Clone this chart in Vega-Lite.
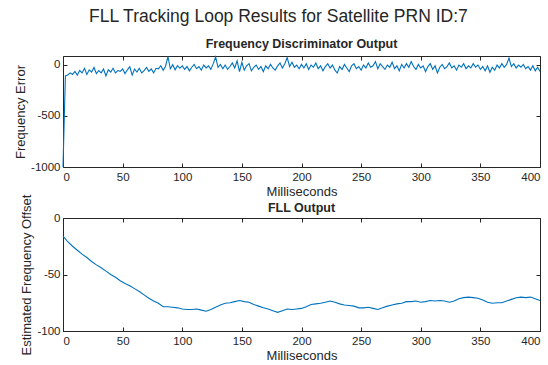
{
  "$schema": "https://vega.github.io/schema/vega-lite/v6.json",
  "padding": {"left": 14, "top": 7, "right": 2, "bottom": 0},
  "background": "white",
  "bounds": "flush",
  "spacing": 51,
  "title": {"text": "FLL Tracking Loop Results for Satellite PRN ID:7", "fontSize": 17.5, "fontWeight": "normal", "font": "Liberation Sans", "color": "#262626", "anchor": "middle", "offset": 12},
  "datasets": {
    "disc": [
      {"t":0,"v":-1000},{"t":2,"v":-110},{"t":4,"v":-100},{"t":6,"v":-80},{"t":8,"v":-95},{"t":10,"v":-65},{"t":12,"v":-102},{"t":14,"v":-57},{"t":16,"v":-80},{"t":18,"v":-35},
      {"t":20,"v":-95},{"t":22,"v":-50},{"t":24,"v":-72},{"t":26,"v":-27},{"t":28,"v":-87},{"t":30,"v":-57},{"t":32,"v":-80},{"t":34,"v":-42},{"t":36,"v":-110},{"t":38,"v":-50},
      {"t":40,"v":-72},{"t":42,"v":-35},{"t":44,"v":-80},{"t":46,"v":-57},{"t":48,"v":-65},{"t":50,"v":-42},{"t":52,"v":-87},{"t":54,"v":-50},{"t":56,"v":-20},{"t":58,"v":-102},
      {"t":60,"v":-42},{"t":62,"v":-72},{"t":64,"v":-35},{"t":66,"v":-80},{"t":68,"v":-57},{"t":70,"v":-27},{"t":72,"v":-65},{"t":74,"v":-42},{"t":76,"v":-80},{"t":78,"v":-35},
      {"t":80,"v":-40},{"t":82,"v":-10},{"t":84,"v":-55},{"t":86,"v":-15},{"t":88,"v":80},{"t":90,"v":-40},{"t":92,"v":0},{"t":94,"v":-50},{"t":96,"v":-10},{"t":98,"v":-35},
      {"t":100,"v":-11},{"t":102,"v":-46},{"t":104,"v":-18},{"t":106,"v":-60},{"t":108,"v":-25},{"t":110,"v":3},{"t":112,"v":-39},{"t":114,"v":-18},{"t":116,"v":-53},{"t":118,"v":-4},
      {"t":120,"v":-32},{"t":122,"v":-11},{"t":124,"v":-46},{"t":126,"v":10},{"t":128,"v":75},{"t":130,"v":-25},{"t":132,"v":3},{"t":134,"v":-39},{"t":136,"v":-4},{"t":138,"v":-46},
      {"t":140,"v":-18},{"t":142,"v":17},{"t":144,"v":-32},{"t":146,"v":38},{"t":148,"v":-67},{"t":150,"v":24},{"t":152,"v":-53},{"t":154,"v":-11},{"t":156,"v":10},{"t":158,"v":-60},
      {"t":160,"v":-25},{"t":162,"v":-4},{"t":164,"v":-46},{"t":166,"v":-18},{"t":168,"v":-67},{"t":170,"v":-11},{"t":172,"v":-39},{"t":174,"v":3},{"t":176,"v":-32},{"t":178,"v":-53},
      {"t":180,"v":-11},{"t":182,"v":17},{"t":184,"v":-32},{"t":186,"v":10},{"t":188,"v":70},{"t":190,"v":-18},{"t":192,"v":24},{"t":194,"v":-25},{"t":196,"v":-4},{"t":198,"v":-39},
      {"t":200,"v":3},{"t":202,"v":-32},{"t":204,"v":10},{"t":206,"v":-46},{"t":208,"v":-4},{"t":210,"v":-25},{"t":212,"v":17},{"t":214,"v":-39},{"t":216,"v":-11},{"t":218,"v":-60},
      {"t":220,"v":-18},{"t":222,"v":10},{"t":224,"v":-32},{"t":226,"v":-4},{"t":228,"v":-53},{"t":230,"v":-81},{"t":232,"v":-18},{"t":234,"v":-46},{"t":236,"v":3},{"t":238,"v":-32},
      {"t":240,"v":-67},{"t":242,"v":-11},{"t":244,"v":10},{"t":246,"v":-39},{"t":248,"v":-18},{"t":250,"v":-53},{"t":252,"v":-4},{"t":254,"v":-32},{"t":256,"v":17},{"t":258,"v":-25},
      {"t":260,"v":-11},{"t":262,"v":31},{"t":264,"v":-39},{"t":266,"v":10},{"t":268,"v":-18},{"t":270,"v":-46},{"t":272,"v":-4},{"t":274,"v":-25},{"t":276,"v":24},{"t":278,"v":-39},
      {"t":280,"v":-11},{"t":282,"v":-60},{"t":284,"v":3},{"t":286,"v":-32},{"t":288,"v":10},{"t":290,"v":-25},{"t":292,"v":31},{"t":294,"v":-18},{"t":296,"v":-46},{"t":298,"v":3},
      {"t":300,"v":-32},{"t":302,"v":-11},{"t":304,"v":-67},{"t":306,"v":-18},{"t":308,"v":10},{"t":310,"v":-46},{"t":312,"v":-11},{"t":314,"v":-81},{"t":316,"v":-25},{"t":318,"v":3},
      {"t":320,"v":-39},{"t":322,"v":-18},{"t":324,"v":17},{"t":326,"v":-32},{"t":328,"v":-11},{"t":330,"v":-53},{"t":332,"v":-4},{"t":334,"v":-25},{"t":336,"v":10},{"t":338,"v":-39},
      {"t":340,"v":-11},{"t":342,"v":-32},{"t":344,"v":10},{"t":346,"v":-25},{"t":348,"v":-4},{"t":350,"v":-46},{"t":352,"v":-18},{"t":354,"v":-60},{"t":356,"v":-11},{"t":358,"v":-74},
      {"t":360,"v":-25},{"t":362,"v":-53},{"t":364,"v":-4},{"t":366,"v":-32},{"t":368,"v":10},{"t":370,"v":-25},{"t":372,"v":3},{"t":374,"v":65},{"t":376,"v":-18},{"t":378,"v":10},
      {"t":380,"v":-32},{"t":382,"v":-4},{"t":384,"v":-25},{"t":386,"v":3},{"t":388,"v":-39},{"t":390,"v":-18},{"t":392,"v":-53},{"t":394,"v":-11},{"t":396,"v":-60},{"t":398,"v":-25},
      {"t":400,"v":-67}
    ],
    "fll": [
      {"t":0,"v":-16},{"t":4,"v":-21},{"t":8,"v":-25},{"t":12,"v":-28.5},{"t":16,"v":-32},{"t":20,"v":-35},{"t":24,"v":-38.5},{"t":28,"v":-41.5},{"t":32,"v":-44},{"t":36,"v":-47},
      {"t":40,"v":-50},{"t":44,"v":-52.5},{"t":48,"v":-55.5},{"t":52,"v":-58},{"t":56,"v":-60},{"t":60,"v":-62.5},{"t":64,"v":-65},{"t":68,"v":-68},{"t":72,"v":-71},{"t":76,"v":-73.5},
      {"t":80,"v":-75.5},{"t":84,"v":-78.5},{"t":88,"v":-78.5},{"t":92,"v":-79},{"t":96,"v":-79.5},{"t":100,"v":-80.5},{"t":104,"v":-81},{"t":108,"v":-81},{"t":112,"v":-80.5},{"t":116,"v":-81.5},
      {"t":120,"v":-82.5},{"t":124,"v":-81},{"t":128,"v":-79},{"t":132,"v":-77},{"t":136,"v":-75.5},{"t":140,"v":-75},{"t":144,"v":-74},{"t":148,"v":-73},{"t":152,"v":-74},{"t":156,"v":-74.5},
      {"t":160,"v":-76.5},{"t":164,"v":-78},{"t":168,"v":-79.5},{"t":172,"v":-80.5},{"t":176,"v":-82},{"t":180,"v":-83.5},{"t":184,"v":-82},{"t":188,"v":-80.5},{"t":192,"v":-81},{"t":196,"v":-80.5},
      {"t":200,"v":-80},{"t":204,"v":-78.5},{"t":208,"v":-76.5},{"t":212,"v":-76},{"t":216,"v":-75.5},{"t":220,"v":-74.5},{"t":224,"v":-73.5},{"t":228,"v":-74.5},{"t":232,"v":-76},{"t":236,"v":-77},
      {"t":240,"v":-77.5},{"t":244,"v":-78},{"t":248,"v":-79.5},{"t":252,"v":-79.5},{"t":256,"v":-79},{"t":260,"v":-80},{"t":264,"v":-81},{"t":268,"v":-79.5},{"t":272,"v":-78},{"t":276,"v":-77},
      {"t":280,"v":-76},{"t":284,"v":-75.5},{"t":288,"v":-74},{"t":292,"v":-74},{"t":296,"v":-73.5},{"t":300,"v":-74.5},{"t":304,"v":-74},{"t":308,"v":-73},{"t":312,"v":-73.5},{"t":316,"v":-73},
      {"t":320,"v":-73.5},{"t":324,"v":-74.5},{"t":328,"v":-73.5},{"t":332,"v":-71.5},{"t":336,"v":-70.5},{"t":340,"v":-70},{"t":344,"v":-70.5},{"t":348,"v":-71},{"t":352,"v":-72.5},{"t":356,"v":-74.5},
      {"t":360,"v":-75.5},{"t":364,"v":-75},{"t":368,"v":-75},{"t":372,"v":-73.5},{"t":376,"v":-72},{"t":380,"v":-70.5},{"t":384,"v":-70},{"t":388,"v":-70.5},{"t":392,"v":-70},{"t":396,"v":-71.5},
      {"t":400,"v":-73}
    ]
  },
  "config": {
    "font": "Liberation Sans",
    "view": {"stroke": "#262626", "strokeWidth": 1},
    "axis": {"grid": false, "domain": false, "tickSize": -4, "tickColor": "#262626", "labelColor": "#262626", "labelFontSize": 11.5, "titleColor": "#262626", "titleFontSize": 13, "titleFontWeight": "normal", "labelFont": "Liberation Sans", "titleFont": "Liberation Sans", "labelExpr": "'' + datum.value"},
    "axisX": {"labelPadding": 8, "titlePadding": 3},
    "axisY": {"labelPadding": 7, "titlePadding": 3}
  },
  "vconcat": [
    {
      "width": 477, "height": 111,
      "title": {"text": "Frequency Discriminator Output", "fontSize": 12.5, "fontWeight": "bold", "color": "#262626", "offset": 4, "anchor": "middle"},
      "data": {"name": "disc"},
      "resolve": {"axis": {"x": "independent", "y": "independent"}},
      "layer": [
        {
          "mark": {"type": "line", "color": "#0072BD", "strokeWidth": 1.1},
          "encoding": {
            "x": {"field": "t", "type": "quantitative", "scale": {"domain": [0, 400], "nice": false}, "axis": {"values": [0,50,100,150,200,250,300,350,400], "title": "Milliseconds"}},
            "y": {"field": "v", "type": "quantitative", "scale": {"domain": [-1000, 85], "nice": false, "zero": false}, "axis": {"values": [-1000,-500,0], "title": "Frequency Error"}}
          }
        },
        {
          "mark": {"type": "line", "opacity": 0},
          "encoding": {
            "x": {"field": "t", "type": "quantitative", "axis": {"orient": "top", "values": [0,50,100,150,200,250,300,350,400], "labels": false, "title": null}},
            "y": {"field": "v", "type": "quantitative", "axis": {"orient": "right", "values": [-1000,-500,0], "labels": false, "title": null}}
          }
        }
      ]
    },
    {
      "width": 477, "height": 113,
      "title": {"text": "FLL Output", "fontSize": 12.5, "fontWeight": "bold", "color": "#262626", "offset": -20, "anchor": "middle"},
      "data": {"name": "fll"},
      "resolve": {"axis": {"x": "independent", "y": "independent"}},
      "layer": [
        {
          "mark": {"type": "line", "color": "#0072BD", "strokeWidth": 1.1},
          "encoding": {
            "x": {"field": "t", "type": "quantitative", "scale": {"domain": [0, 400], "nice": false}, "axis": {"values": [0,50,100,150,200,250,300,350,400], "title": "Milliseconds"}},
            "y": {"field": "v", "type": "quantitative", "scale": {"domain": [-100, 0], "nice": false, "zero": false}, "axis": {"values": [-100,-50,0], "title": "Estimated Frequency Offset"}}
          }
        },
        {
          "mark": {"type": "line", "opacity": 0},
          "encoding": {
            "x": {"field": "t", "type": "quantitative", "axis": {"orient": "top", "values": [0,50,100,150,200,250,300,350,400], "labels": false, "title": null}},
            "y": {"field": "v", "type": "quantitative", "axis": {"orient": "right", "values": [-100,-50,0], "labels": false, "title": null}}
          }
        }
      ]
    }
  ]
}
